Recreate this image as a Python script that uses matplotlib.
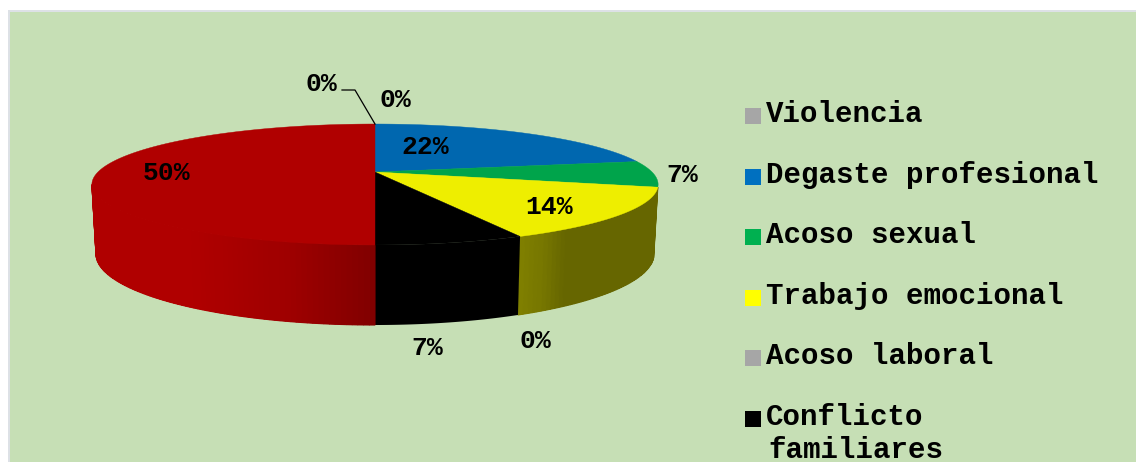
import numpy as np
import matplotlib
matplotlib.use("Agg")
import matplotlib.pyplot as plt
from matplotlib.patches import Rectangle

# valores del grafico (en orden horario desde arriba)
valores = [0, 22, 7, 14, 0, 7, 50]
colores_pie = ["#A6A6A6", "#0067AF", "#00A44B", "#EEEE00", "#A6A6A6", "#000000", "#B00000"]
etiquetas = ["0%", "22%", "7%", "14%", "0%", "7%", "50%"]

leyenda = ["Violencia", "Degaste profesional", "Acoso sexual",
           "Trabajo emocional", "Acoso laboral", "Conflicto\nfamiliares"]
colores_leyenda = ["#A6A6A6", "#0070C0", "#00B050", "#FFFF00", "#A6A6A6", "#000000"]

FUENTE = "Liberation Mono"
CX = 375
C = 0.2066  # perspectiva


def proyectar(theta, d, a, b):
    u, v = np.sin(theta), np.cos(theta)
    den = 1 + C * v
    return CX + d * u / den, b + a * v / den


def arriba(theta):
    return proyectar(theta, 277, -57.9, 172)


def abajo(theta):
    return proyectar(theta, 273, -68, 239.3)


def color_lado(color, x):
    # la cara lateral se oscurece segun x
    if color == "#B00000":
        r = np.interp(x, [190, 290, 375], [176, 158, 128])
        return (r / 255, 0, 0)
    if color == "#EEEE00":
        r = np.interp(x, [520, 545, 565], [128, 118, 102])
        return (r / 255, r / 255, 0)
    return color


fig = plt.figure(figsize=(11.36, 4.62), dpi=100)
ax = fig.add_axes([0, 0, 1, 1])
ax.set_xlim(0, 1136)
ax.set_ylim(462, 0)
ax.axis("off")

# fondo con borde solo arriba e izquierda
ax.add_patch(Rectangle((8, 10), 1128, 452, facecolor="#DDE1E6", edgecolor="none"))
ax.add_patch(Rectangle((10, 12), 1126, 450, facecolor="#C6DFB5", edgecolor="none"))

limites = np.cumsum([0] + valores) / sum(valores) * 2 * np.pi

# cara lateral: desde el borde verde/amarillo hasta el extremo izquierdo
theta_ini = limites[3]
theta_fin = 2 * np.pi - np.arccos(-C)
for ini, fin, color in zip(limites[:-1], limites[1:], colores_pie):
    ini2, fin2 = max(ini, theta_ini), min(fin, theta_fin)
    if fin2 <= ini2:
        continue
    ts = np.linspace(ini2, fin2, 200)
    x1, y1 = arriba(ts)
    x2, y2 = abajo(ts[::-1])
    ax.fill(np.r_[x1, x2], np.r_[y1, y2], color=color_lado(color, x1.mean()), lw=0)
    if color == "#000000":
        continue
    # degradado sobre la base, franjas solapadas para que no se vean cortes
    cortes = np.linspace(ini2, fin2, int((fin2 - ini2) * 60) + 2)
    for t0, t1 in zip(cortes[:-1], cortes[1:]):
        tt = np.linspace(t0, t1, 6)
        xa, ya = arriba(tt)
        xb, yb = abajo(tt[::-1])
        ax.fill(np.r_[xa, xb], np.r_[ya, yb], color=color_lado(color, xa.mean()), lw=0.8)

# cara superior
for ini, fin, color in zip(limites[:-1], limites[1:], colores_pie):
    if fin <= ini:
        continue
    ts = np.linspace(ini, fin, 200)
    x, y = arriba(ts)
    ax.fill(np.r_[CX, x], np.r_[172, y], color=color, lw=0.3)

# etiquetas
pos_etiquetas = [(395, 100), (425, 147), (682, 175), (549, 207), (535, 341), (427, 348), (167, 173)]
for txt, (x, y) in zip(etiquetas, pos_etiquetas):
    ax.text(x, y, txt, fontsize=19, fontweight="bold", family=FUENTE, ha="center", va="center", color="black")

# segunda etiqueta 0% con linea guia
ax.text(321, 84, "0%", fontsize=19, fontweight="bold", family=FUENTE, ha="center", va="center", color="black")
ax.plot([342, 355, CX], [90, 90, 124], color="black", lw=0.9)

# leyenda
for i, (nombre, color) in enumerate(zip(leyenda, colores_leyenda)):
    base = 122 + i * 60.6
    ax.add_patch(Rectangle((745, base - 14), 16, 16, facecolor=color, edgecolor="none"))
    lineas = nombre.split("\n")
    ax.text(766, base, lineas[0], fontsize=21, fontweight="bold", family=FUENTE, ha="left", va="baseline", color="black")
    if len(lineas) > 1:
        ax.text(768, base + 33, lineas[1], fontsize=21, fontweight="bold", family=FUENTE, ha="left", va="baseline", color="black")

fig.savefig("out.png", dpi=100, facecolor="white")
